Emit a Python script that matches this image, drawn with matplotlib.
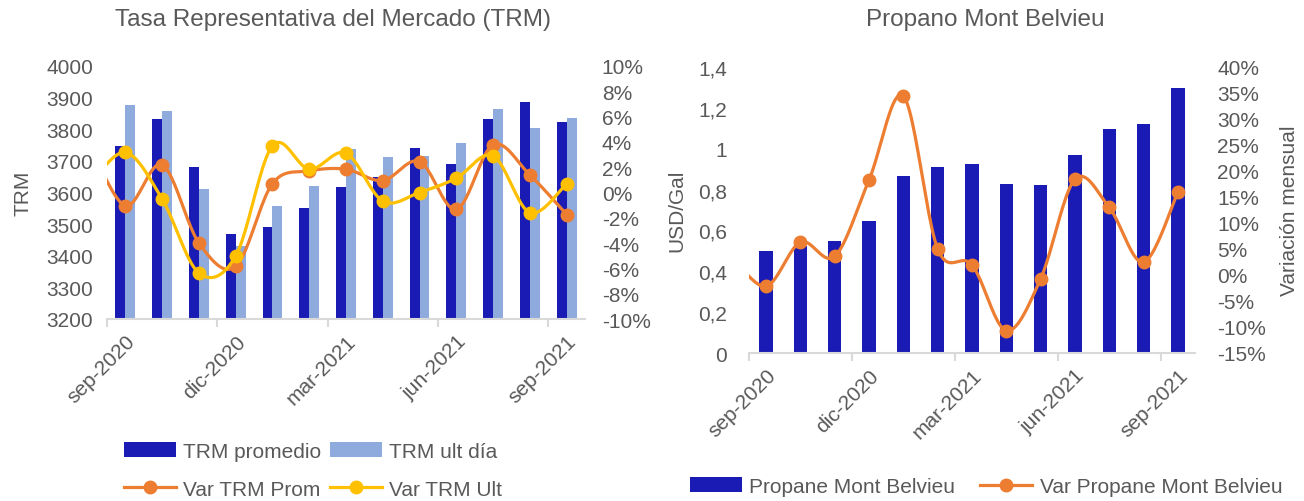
import numpy as np
import matplotlib
matplotlib.use("Agg")
import matplotlib.pyplot as plt
from matplotlib.ticker import FuncFormatter, FixedLocator

plt.rcParams['font.family'] = ['Liberation Sans', 'DejaVu Sans']

# ---------------- datos ----------------
meses = ['sep-2020', 'oct-2020', 'nov-2020', 'dic-2020', 'ene-2021', 'feb-2021', 'mar-2021',
         'abr-2021', 'may-2021', 'jun-2021', 'jul-2021', 'ago-2021', 'sep-2021']

trm_promedio = [3748, 3833, 3680, 3468, 3492, 3551, 3617, 3650, 3740, 3690, 3833, 3887, 3822]
trm_ult_dia = [3878, 3858, 3610, 3430, 3557, 3622, 3737, 3712, 3714, 3756, 3865, 3805, 3834]

# variaciones en %, el primer valor es ago-2020 (queda fuera del eje, solo se ve la curva)
var_trm_prom = [4.0, -1.05, 2.19, -3.99, -5.84, 0.70, 1.70, 1.84, 0.94, 2.45, -1.34, 3.77, 1.39, -1.74]
var_trm_ult = [0.5, 3.17, -0.52, -6.37, -5.02, 3.70, 1.84, 3.11, -0.68, 0.0, 1.13, 2.90, -1.60, 0.70]

propano = [0.497, 0.526, 0.547, 0.647, 0.867, 0.912, 0.926, 0.827, 0.820, 0.970, 1.096, 1.121, 1.299]
var_propano = [3.6, -2.16, 6.31, 3.6, 18.3, 34.4, 5.02, 1.94, -10.7, -0.75, 18.4, 13.0, 2.46, 15.9]

AZUL = '#1A1BB4'
AZUL_CLARO = '#8FAADC'
NARANJA = '#ED7D31'
AMARILLO = '#FFC000'
GRIS = '#595959'
EJE = '#D9D9D9'
FS = 15


def suavizar(x, y, n=24):
    # curva tipo Excel (Bezier con tangentes Catmull-Rom)
    pts = np.column_stack([x, y]).astype(float)
    pts = np.vstack([pts[0], pts, pts[-1]])
    out = []
    t = np.linspace(0, 1, n)[:, None]
    for i in range(1, len(pts) - 2):
        p0, p1, p2, p3 = pts[i - 1], pts[i], pts[i + 1], pts[i + 2]
        c1 = p1 + (p2 - p0) / 6
        c2 = p2 - (p3 - p1) / 6
        seg = (1 - t) ** 3 * p1 + 3 * (1 - t) ** 2 * t * c1 + 3 * (1 - t) * t ** 2 * c2 + t ** 3 * p2
        out.append(seg if i == 1 else seg[1:])
    out = np.vstack(out)
    return out[:, 0], out[:, 1]


def coma(v, pos):
    return ('%g' % v).replace('.', ',')


def pct(v, pos):
    return '%d%%' % round(v)


def eje_x(ax, n):
    ax.set_xlim(-0.5, n - 0.5)
    ax.set_xticks(np.arange(0, n, 3))
    ax.set_xticklabels(meses[::3], rotation=45, ha='right', rotation_mode='anchor',
                       fontsize=FS, color=GRIS)
    ax.tick_params(axis='x', which='major', length=0, pad=9)
    ax.xaxis.set_minor_locator(FixedLocator(np.arange(-0.5, n - 0.5, 3)))
    ax.tick_params(axis='x', which='minor', length=6, color=EJE, width=1.5)
    for s in ['top', 'left', 'right']:
        ax.spines[s].set_visible(False)
    ax.spines['bottom'].set_color(EJE)
    ax.spines['bottom'].set_linewidth(1.5)


fig = plt.figure(figsize=(13.04, 5.02), dpi=100)

# ---------------- TRM ----------------
ax1 = fig.add_axes([107 / 1304, 1 - 320 / 502, 478 / 1304, 253 / 502])
x = np.arange(len(meses))
w = 0.27
b1 = ax1.bar(x - w / 2, trm_promedio, w, color=AZUL, label='TRM promedio')
b2 = ax1.bar(x + w / 2, trm_ult_dia, w, color=AZUL_CLARO, label='TRM ult día')
ax1.set_ylim(3200, 4000)
ax1.set_yticks(np.arange(3200, 4001, 100))
ax1.tick_params(axis='y', length=0, pad=10, labelsize=FS, labelcolor=GRIS)
ax1.set_ylabel('TRM', fontsize=FS, color=GRIS, labelpad=10)
eje_x(ax1, len(meses))

ax1b = ax1.twinx()
xl = np.arange(-1, len(meses))
sx, sy = suavizar(xl, var_trm_prom)
ax1b.plot(sx, sy, color=NARANJA, lw=2.3)
ax1b.plot(xl, var_trm_prom, 'o', color=NARANJA, ms=9)
sx, sy = suavizar(xl, var_trm_ult)
ax1b.plot(sx, sy, color=AMARILLO, lw=2.3)
ax1b.plot(xl, var_trm_ult, 'o', color=AMARILLO, ms=9)
ax1b.set_ylim(-10, 10)
ax1b.set_yticks(np.arange(-10, 11, 2))
ax1b.yaxis.set_major_formatter(FuncFormatter(pct))
ax1b.tick_params(axis='y', length=0, pad=12, labelsize=FS, labelcolor=GRIS)
for s in ['top', 'left', 'right', 'bottom']:
    ax1b.spines[s].set_visible(False)
ax1b.set_xlim(-0.5, len(meses) - 0.5)

h_prom = plt.Line2D([], [], color=NARANJA, lw=2.3, marker='o', ms=9)
h_ult = plt.Line2D([], [], color=AMARILLO, lw=2.3, marker='o', ms=9)
fig.legend([b1, h_prom, b2, h_ult], ['TRM promedio', 'Var TRM Prom', 'TRM ult día', 'Var TRM Ult'],
           ncol=2, loc='upper left', bbox_to_anchor=(124 / 1304, 1 - 443 / 502), frameon=False,
           fontsize=FS, labelcolor=GRIS, handlelength=2.5, handletextpad=0.35,
           columnspacing=0.4, labelspacing=0.9, borderpad=0, borderaxespad=0)
fig.text(333 / 1304, 1 - 20 / 502, 'Tasa Representativa del Mercado (TRM)', fontsize=17.5,
         color=GRIS, ha='center', va='center')

# ---------------- Propano ----------------
ax2 = fig.add_axes([749 / 1304, 1 - 354 / 502, 446 / 1304, 286 / 502])
b3 = ax2.bar(x, propano, 0.39, color=AZUL, label='Propane Mont Belvieu')
ax2.set_ylim(0, 1.4)
ax2.set_yticks(np.arange(0, 1.41, 0.2))
ax2.yaxis.set_major_formatter(FuncFormatter(coma))
ax2.tick_params(axis='y', length=0, pad=16, labelsize=FS, labelcolor=GRIS)
ax2.set_ylabel('USD/Gal', fontsize=FS, color=GRIS, labelpad=8)
eje_x(ax2, len(meses))

ax2b = ax2.twinx()
sx, sy = suavizar(xl, var_propano)
ax2b.plot(sx, sy, color=NARANJA, lw=2.3)
ax2b.plot(xl, var_propano, 'o', color=NARANJA, ms=9)
ax2b.set_ylim(-15, 40)
ax2b.set_yticks(np.arange(-15, 41, 5))
ax2b.yaxis.set_major_formatter(FuncFormatter(pct))
ax2b.tick_params(axis='y', length=0, pad=16, labelsize=FS, labelcolor=GRIS)
ax2b.set_ylabel('Variación mensual', fontsize=FS, color=GRIS, labelpad=10)
for s in ['top', 'left', 'right', 'bottom']:
    ax2b.spines[s].set_visible(False)
ax2b.set_xlim(-0.5, len(meses) - 0.5)

h_prop = plt.Line2D([], [], color=NARANJA, lw=2.3, marker='o', ms=9)
fig.legend([b3, h_prop], ['Propane Mont Belvieu', 'Var Propane Mont Belvieu'],
           ncol=2, loc='upper left', bbox_to_anchor=(690 / 1304, 1 - 478 / 502), frameon=False,
           fontsize=FS, labelcolor=GRIS, handlelength=2.5, handletextpad=0.35,
           columnspacing=1.2, borderpad=0, borderaxespad=0)
fig.text(985 / 1304, 1 - 20 / 502, 'Propano Mont Belvieu', fontsize=17.5,
         color=GRIS, ha='center', va='center')

fig.savefig('out.png', dpi=100)
